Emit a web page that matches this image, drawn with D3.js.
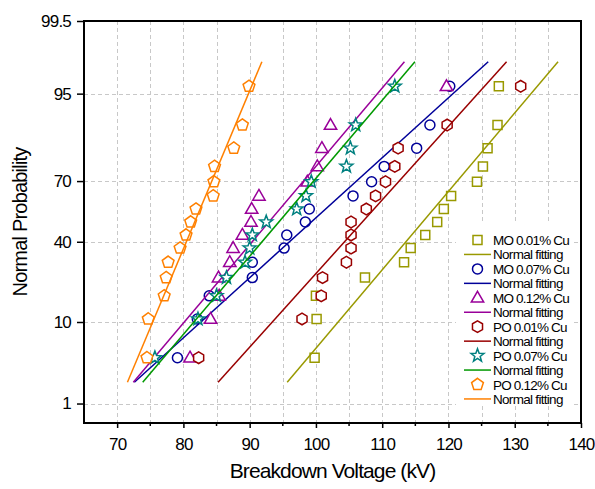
<!DOCTYPE html>
<html>
<head>
<meta charset="utf-8">
<style>
  html, body { margin: 0; padding: 0; background: #fff; }
  svg text { font-family: "Liberation Sans", Arial, sans-serif; fill: #000; }
</style>
</head>
<body>
<div id="chart"></div>
<script src="https://d3js.org/d3.v7.min.js"></script>
<script>
// probability levels (%) of the ranked points
var probability = [4.1, 10.7, 17.2, 23.8, 30.3, 36.9, 43.4, 50, 56.6, 63.1, 69.7, 76.2, 82.8, 89.3, 95.9]

// breakdown voltages (kV) of each sample, ranked
var mo001 = [99.8, 100.1, 100.0, 107.4, 113.3, 114.3, 116.5, 118.3, 119.3, 120.4, 124.3, 125.2, 125.9, 127.4, 127.6]
var mo007 = [79.1, 82.1, 83.9, 90.4, 90.4, 95.2, 95.6, 98.4, 99.0, 105.6, 108.4, 110.3, 115.2, 117.2, 120.2]
var mo012 = [81.0, 84.1, 85.4, 85.3, 87.0, 87.5, 88.9, 90.2, 90.3, 91.4, 98.7, 100.2, 100.9, 102.2, 119.7]
var po001 = [82.3, 97.9, 100.8, 101.0, 104.6, 105.3, 105.3, 105.3, 107.6, 109.0, 110.5, 111.9, 112.4, 119.8, 130.9]
var po007 = [75.7, 82.2, 85.0, 86.5, 89.3, 90.0, 90.4, 92.5, 97.1, 98.5, 99.3, 104.6, 105.2, 106.0, 111.9]
var po012 = [74.5, 74.7, 77.1, 77.4, 77.7, 79.5, 80.4, 81.1, 81.9, 84.5, 84.6, 84.7, 87.6, 88.9, 89.9]

// normal fitting: mean and standard deviation (kV)
var fitMean  = [116.1, 99.3, 92.9, 107.0, 94.4, 81.7]
var fitSigma = [9.95, 13.0, 9.96, 10.6, 10.0, 4.94]
var fitRange = [2, 98]   // percent span of the fit lines

var seriesNames = ["MO 0.01% Cu", "MO 0.07% Cu", "MO 0.12% Cu", "PO 0.01% Cu", "PO 0.07% Cu", "PO 0.12% Cu"]
var seriesData = [mo001, mo007, mo012, po001, po007, po012]
var markerColors = ["#999900", "#000099", "#990099", "#990000", "#008080", "#ff8000"]
var lineColors   = ["#999900", "#000099", "#990099", "#990000", "#009900", "#ff8000"]
var shapes = ["square", "circle", "triangle", "hexagon", "star", "pentagon"]

var xTicks = [70, 80, 90, 100, 110, 120, 130, 140]
var xMinor = [75, 85, 95, 105, 115, 125, 135]
var xGrid  = [70, 75, 80, 85, 90, 95, 100, 105, 110, 115, 120, 125, 130, 135]
var yTicks = [1, 10, 40, 70, 95, 99.5]
var yGrid  = [1, 10, 40, 70, 95]

// inverse of the standard normal CDF (Acklam)
function probit(p) {
  var a = [-39.69683028665376, 220.9460984245205, -275.9285104469687, 138.3577518672690, -30.66479806614716, 2.506628277459239]
  var b = [-54.47609879822406, 161.5858368580409, -155.6989798598866, 66.80131188771720, -13.28068155288572]
  var c = [-0.007784894002430293, -0.3223964580411365, -2.400758277161838, -2.549732539343734, 4.374664141464968, 2.938163982698783]
  var d = [0.007784695709041462, 0.3224671290700398, 2.445134137142996, 3.754408661907416]
  var q, r
  if (p < 0.02425) {
    q = Math.sqrt(-2 * Math.log(p))
    return (((((c[0]*q+c[1])*q+c[2])*q+c[3])*q+c[4])*q+c[5]) / ((((d[0]*q+d[1])*q+d[2])*q+d[3])*q+1)
  } else if (p > 1 - 0.02425) {
    q = Math.sqrt(-2 * Math.log(1 - p))
    return -(((((c[0]*q+c[1])*q+c[2])*q+c[3])*q+c[4])*q+c[5]) / ((((d[0]*q+d[1])*q+d[2])*q+d[3])*q+1)
  }
  q = p - 0.5; r = q * q
  return (((((a[0]*r+a[1])*r+a[2])*r+a[3])*r+a[4])*r+a[5])*q / (((((b[0]*r+b[1])*r+b[2])*r+b[3])*r+b[4])*r+1)
}

var width = 595, height = 489
var plot = {left: 84, right: 581, top: 21, bottom: 423}

var x = d3.scaleLinear().domain([65, 140]).range([plot.left, plot.right])
var zScale = d3.scaleLinear().domain([probit(0.005), probit(0.995)]).range([plot.bottom, plot.top])
var y = function (pct) { return zScale(probit(pct / 100)) }

var svg = d3.select("#chart").append("svg")
  .attr("width", width).attr("height", height)

// grid
var grid = svg.append("g").attr("stroke", "#c8c8c8").attr("stroke-width", 1).attr("stroke-dasharray", "4,3")
grid.selectAll(".gx").data(xGrid).enter().append("line")
  .attr("x1", d => Math.round(x(d)) + 0.5).attr("x2", d => Math.round(x(d)) + 0.5)
  .attr("y1", plot.top).attr("y2", plot.bottom)
grid.selectAll(".gy").data(yGrid).enter().append("line")
  .attr("x1", plot.left).attr("x2", plot.right)
  .attr("y1", d => Math.round(y(d)) + 0.5).attr("y2", d => Math.round(y(d)) + 0.5)

// legend background hides the grid behind it
svg.append("rect").attr("x", 456).attr("y", 221).attr("width", 116).attr("height", 184).attr("fill", "#fff")

// marker shapes
function markerPath(shape) {
  var pts = [], i, n, r
  if (shape === "circle") return d3.symbol().type(d3.symbolCircle).size(Math.PI * 25)()
  if (shape === "square") return "M-4.5,-4.5H4.5V4.5H-4.5Z"
  if (shape === "triangle") return "M0,-6.5L6.2,4.3H-6.2Z"
  if (shape === "star") {
    for (i = 0; i < 10; i++) {
      r = i % 2 ? 2.8 : 6.8
      var a = -Math.PI / 2 + i * Math.PI / 5
      pts.push([r * Math.cos(a), r * Math.sin(a)])
    }
  } else {
    n = shape === "pentagon" ? 5 : 6
    r = shape === "pentagon" ? 6.2 : 5.8
    for (i = 0; i < n; i++) {
      var b = -Math.PI / 2 + i * 2 * Math.PI / n
      pts.push([r * Math.cos(b), r * Math.sin(b)])
    }
  }
  return "M" + pts.map(p => p[0].toFixed(2) + "," + p[1].toFixed(2)).join("L") + "Z"
}

// series: scatter then its fitting line
var line = d3.line().x(d => x(d[0])).y(d => y(d[1]))
seriesData.forEach(function (vals, k) {
  svg.append("g").selectAll("path").data(vals).enter().append("path")
    .attr("d", markerPath(shapes[k]))
    .attr("transform", (d, i) => "translate(" + x(d) + "," + y(probability[i]) + ")")
    .attr("fill", "#fff").attr("stroke", markerColors[k]).attr("stroke-width", 1.5)
  var ends = fitRange.map(p => [fitMean[k] + fitSigma[k] * probit(p / 100), p])
  svg.append("path").datum(ends).attr("d", line)
    .attr("fill", "none").attr("stroke", lineColors[k]).attr("stroke-width", 1.5)
})

// frame
svg.append("rect").attr("x", plot.left).attr("y", plot.top)
  .attr("width", plot.right - plot.left).attr("height", plot.bottom - plot.top)
  .attr("fill", "none").attr("stroke", "#000").attr("stroke-width", 2)

// x axis
var xAxis = svg.append("g").attr("transform", "translate(0," + plot.bottom + ")")
xAxis.call(d3.axisBottom(x).tickValues(xTicks).tickSize(5).tickPadding(10))
xAxis.select(".domain").remove()
xAxis.selectAll(".tick line").attr("stroke-width", 1.5)
xAxis.selectAll(".tick text").attr("font-size", "17px").attr("letter-spacing", "-0.8px")
xAxis.selectAll(".minor").data(xMinor).enter().append("line").attr("class", "minor")
  .attr("x1", d => x(d)).attr("x2", d => x(d)).attr("y1", 0).attr("y2", 3)
  .attr("stroke", "#000").attr("stroke-width", 1.5)

// y axis
var yAxis = svg.append("g").attr("transform", "translate(" + plot.left + ",0)")
yAxis.call(d3.axisLeft(zScale).tickValues(yTicks.map(p => probit(p / 100)))
  .tickFormat((d, i) => yTicks[i]).tickSize(7).tickPadding(6))
yAxis.select(".domain").remove()
yAxis.selectAll(".tick line").attr("stroke-width", 1.5)
yAxis.selectAll(".tick text").attr("font-size", "17px").attr("letter-spacing", "-0.8px")

// axis titles
svg.append("text").attr("x", (plot.left + plot.right) / 2).attr("y", 478)
  .attr("text-anchor", "middle").attr("font-size", "21px").attr("letter-spacing", "-0.9px")
  .text("Breakdown Voltage (kV)")
svg.append("text").attr("transform", "translate(27," + (plot.top + plot.bottom) / 2 + ") rotate(-90)")
  .attr("text-anchor", "middle").attr("font-size", "20px").attr("letter-spacing", "-0.8px")
  .text("Normal Probability")

// legend
var legend = svg.append("g")
var rowH = 14.45, row0 = 240
seriesNames.forEach(function (name, k) {
  var ys = row0 + rowH * 2 * k, yl = ys + rowH
  legend.append("path").attr("d", markerPath(shapes[k]))
    .attr("transform", "translate(477.5," + ys + ")")
    .attr("fill", "#fff").attr("stroke", markerColors[k]).attr("stroke-width", 1.5)
  legend.append("text").attr("x", 493).attr("y", ys + 5)
    .attr("font-size", "13.5px").attr("letter-spacing", "-0.8px").text(name)
  legend.append("line").attr("x1", 464).attr("x2", 491).attr("y1", yl).attr("y2", yl)
    .attr("stroke", lineColors[k]).attr("stroke-width", 1.5)
  legend.append("text").attr("x", 493).attr("y", yl + 5)
    .attr("font-size", "13.5px").attr("letter-spacing", "-0.7px").text("Normal fitting")
})
</script>
</body>
</html>
